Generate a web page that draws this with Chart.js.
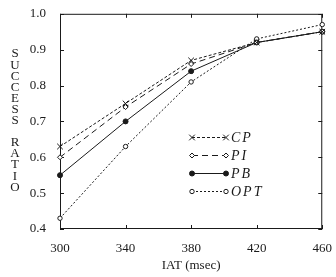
<!DOCTYPE html>
<html>
<head>
<meta charset="utf-8">
<script src="https://cdn.jsdelivr.net/npm/chart.js@4/dist/chart.umd.min.js"></script>
<style>
  html, body { margin: 0; padding: 0; background: #fff; }
  #box { width: 336px; height: 277px; }
</style>
</head>
<body>
<div id="box"><canvas id="c"></canvas></div>
<script>
var iat = [300, 340, 380, 420, 460];
var cp  = [0.63, 0.75, 0.87, 0.92, 0.95];
var pi  = [0.60, 0.74, 0.86, 0.92, 0.95];
var pb  = [0.55, 0.70, 0.84, 0.92, 0.95];
var opt = [0.43, 0.63, 0.81, 0.93, 0.97];
var yTitle = 'SUCCESS RATIO';
var xTitle = 'IAT (msec)';

var ink = '#1a1a1a';
var serif = '"Liberation Serif", "DejaVu Serif", serif';

function pts(arr) {
  return arr.map(function(v, i){ return {x: iat[i], y: v}; });
}

var sets = [
  {label: 'CP',  data: pts(cp),  borderDash: [3, 2], pointStyle: 'crossRot', pointRadius: 4, pointBackgroundColor: '#fff'},
  {label: 'PI',  data: pts(pi),  borderDash: [6, 4], pointStyle: 'rectRot',  pointRadius: 2.5, pointBackgroundColor: '#fff'},
  {label: 'PB',  data: pts(pb),  borderDash: [],     pointStyle: 'circle',   pointRadius: 2.5, pointBackgroundColor: ink},
  {label: 'OPT', data: pts(opt), borderDash: [2, 2], pointStyle: 'circle',   pointRadius: 2.2, pointBackgroundColor: '#fff'}
];
sets.forEach(function(s){
  s.borderColor = ink;
  s.pointBorderColor = ink;
  s.borderWidth = 1;
  s.pointBorderWidth = 1;
  s.tension = 0;
  s.clip = false;
});

var decor = {
  id: 'decor',
  beforeDatasetsDraw: function(chart) {
    var c = chart.ctx, a = chart.chartArea;
    var xs = chart.scales.x, ys = chart.scales.y;
    c.save();
    c.strokeStyle = ink;
    c.lineWidth = 1;
    c.strokeRect(a.left + 0.5, a.top + 0.5, a.right - a.left - 1, a.bottom - a.top - 1);
    // inside ticks
    c.beginPath();
    iat.forEach(function(v){
      var px = Math.round(xs.getPixelForValue(v)) + 0.5;
      c.moveTo(px, a.bottom); c.lineTo(px, a.bottom - 4);
      c.moveTo(px, a.top); c.lineTo(px, a.top + 4);
    });
    for (var t = 0.4; t <= 1.0001; t += 0.1) {
      var py = Math.round(ys.getPixelForValue(t)) + 0.5;
      c.moveTo(a.left, py); c.lineTo(a.left + 4, py);
      c.moveTo(a.right, py); c.lineTo(a.right - 4, py);
    }
    c.stroke();
    c.restore();
  },
  afterDraw: function(chart) {
    var c = chart.ctx;
    c.save();
    // vertical stacked y title
    c.fillStyle = ink;
    c.font = '13px ' + serif;
    c.textAlign = 'center';
    c.textBaseline = 'middle';
    var y0 = 54;
    for (var i = 0; i < yTitle.length; i++) {
      if (yTitle[i] !== ' ') c.fillText(yTitle[i], 15, y0 + i * 11.1);
    }

    // legend
    var rows = [137, 155, 173, 191];
    var x1 = 192, x2 = 226;
    chart.data.datasets.forEach(function(ds, i){
      var y = rows[i];
      c.strokeStyle = ink;
      c.lineWidth = 1;
      c.setLineDash(ds.borderDash);
      c.beginPath();
      c.moveTo(x1, y + 0.5); c.lineTo(x2, y + 0.5);
      c.stroke();
      c.setLineDash([]);
      [x1, x2].forEach(function(x){
        c.fillStyle = ds.pointBackgroundColor;
        c.strokeStyle = ink;
        Chart.helpers.drawPoint(c, {pointStyle: ds.pointStyle, radius: ds.pointRadius, borderWidth: 1}, x, y + 0.5);
      });
      c.fillStyle = ink;
      c.font = 'italic 14px ' + serif;
      c.textAlign = 'left';
      c.letterSpacing = '2px';
      c.fillText(ds.label, x2 + 5, y + 1);
      c.letterSpacing = '0px';
    });
    c.restore();
  }
};

new Chart(document.getElementById('c'), {
  type: 'line',
  data: { datasets: sets },
  plugins: [decor],
  options: {
    responsive: true,
    maintainAspectRatio: false,
    animation: false,
    layout: { padding: { top: 9, right: 10, left: 0, bottom: 0 } },
    plugins: { legend: { display: false }, tooltip: { enabled: false } },
    scales: {
      x: {
        type: 'linear',
        min: 300, max: 460,
        afterBuildTicks: function(s){ s.ticks = iat.map(function(v){ return {value: v}; }); },
        afterFit: function(s){ s.height = 48; },
        grid: { display: false },
        border: { display: false },
        ticks: { color: ink, font: { family: serif, size: 13 }, padding: 4, maxRotation: 0 },
        title: { display: true, text: xTitle, color: ink, font: { family: serif, size: 13 }, padding: { top: 4 } }
      },
      y: {
        min: 0.4, max: 1.0,
        afterFit: function(s){ s.width = 60; },
        grid: { display: false },
        border: { display: false },
        ticks: { stepSize: 0.1, color: ink, font: { family: serif, size: 13 }, padding: 6,
          callback: function(v){ return v.toFixed(1); } }
      }
    }
  }
});
</script>
</body>
</html>
